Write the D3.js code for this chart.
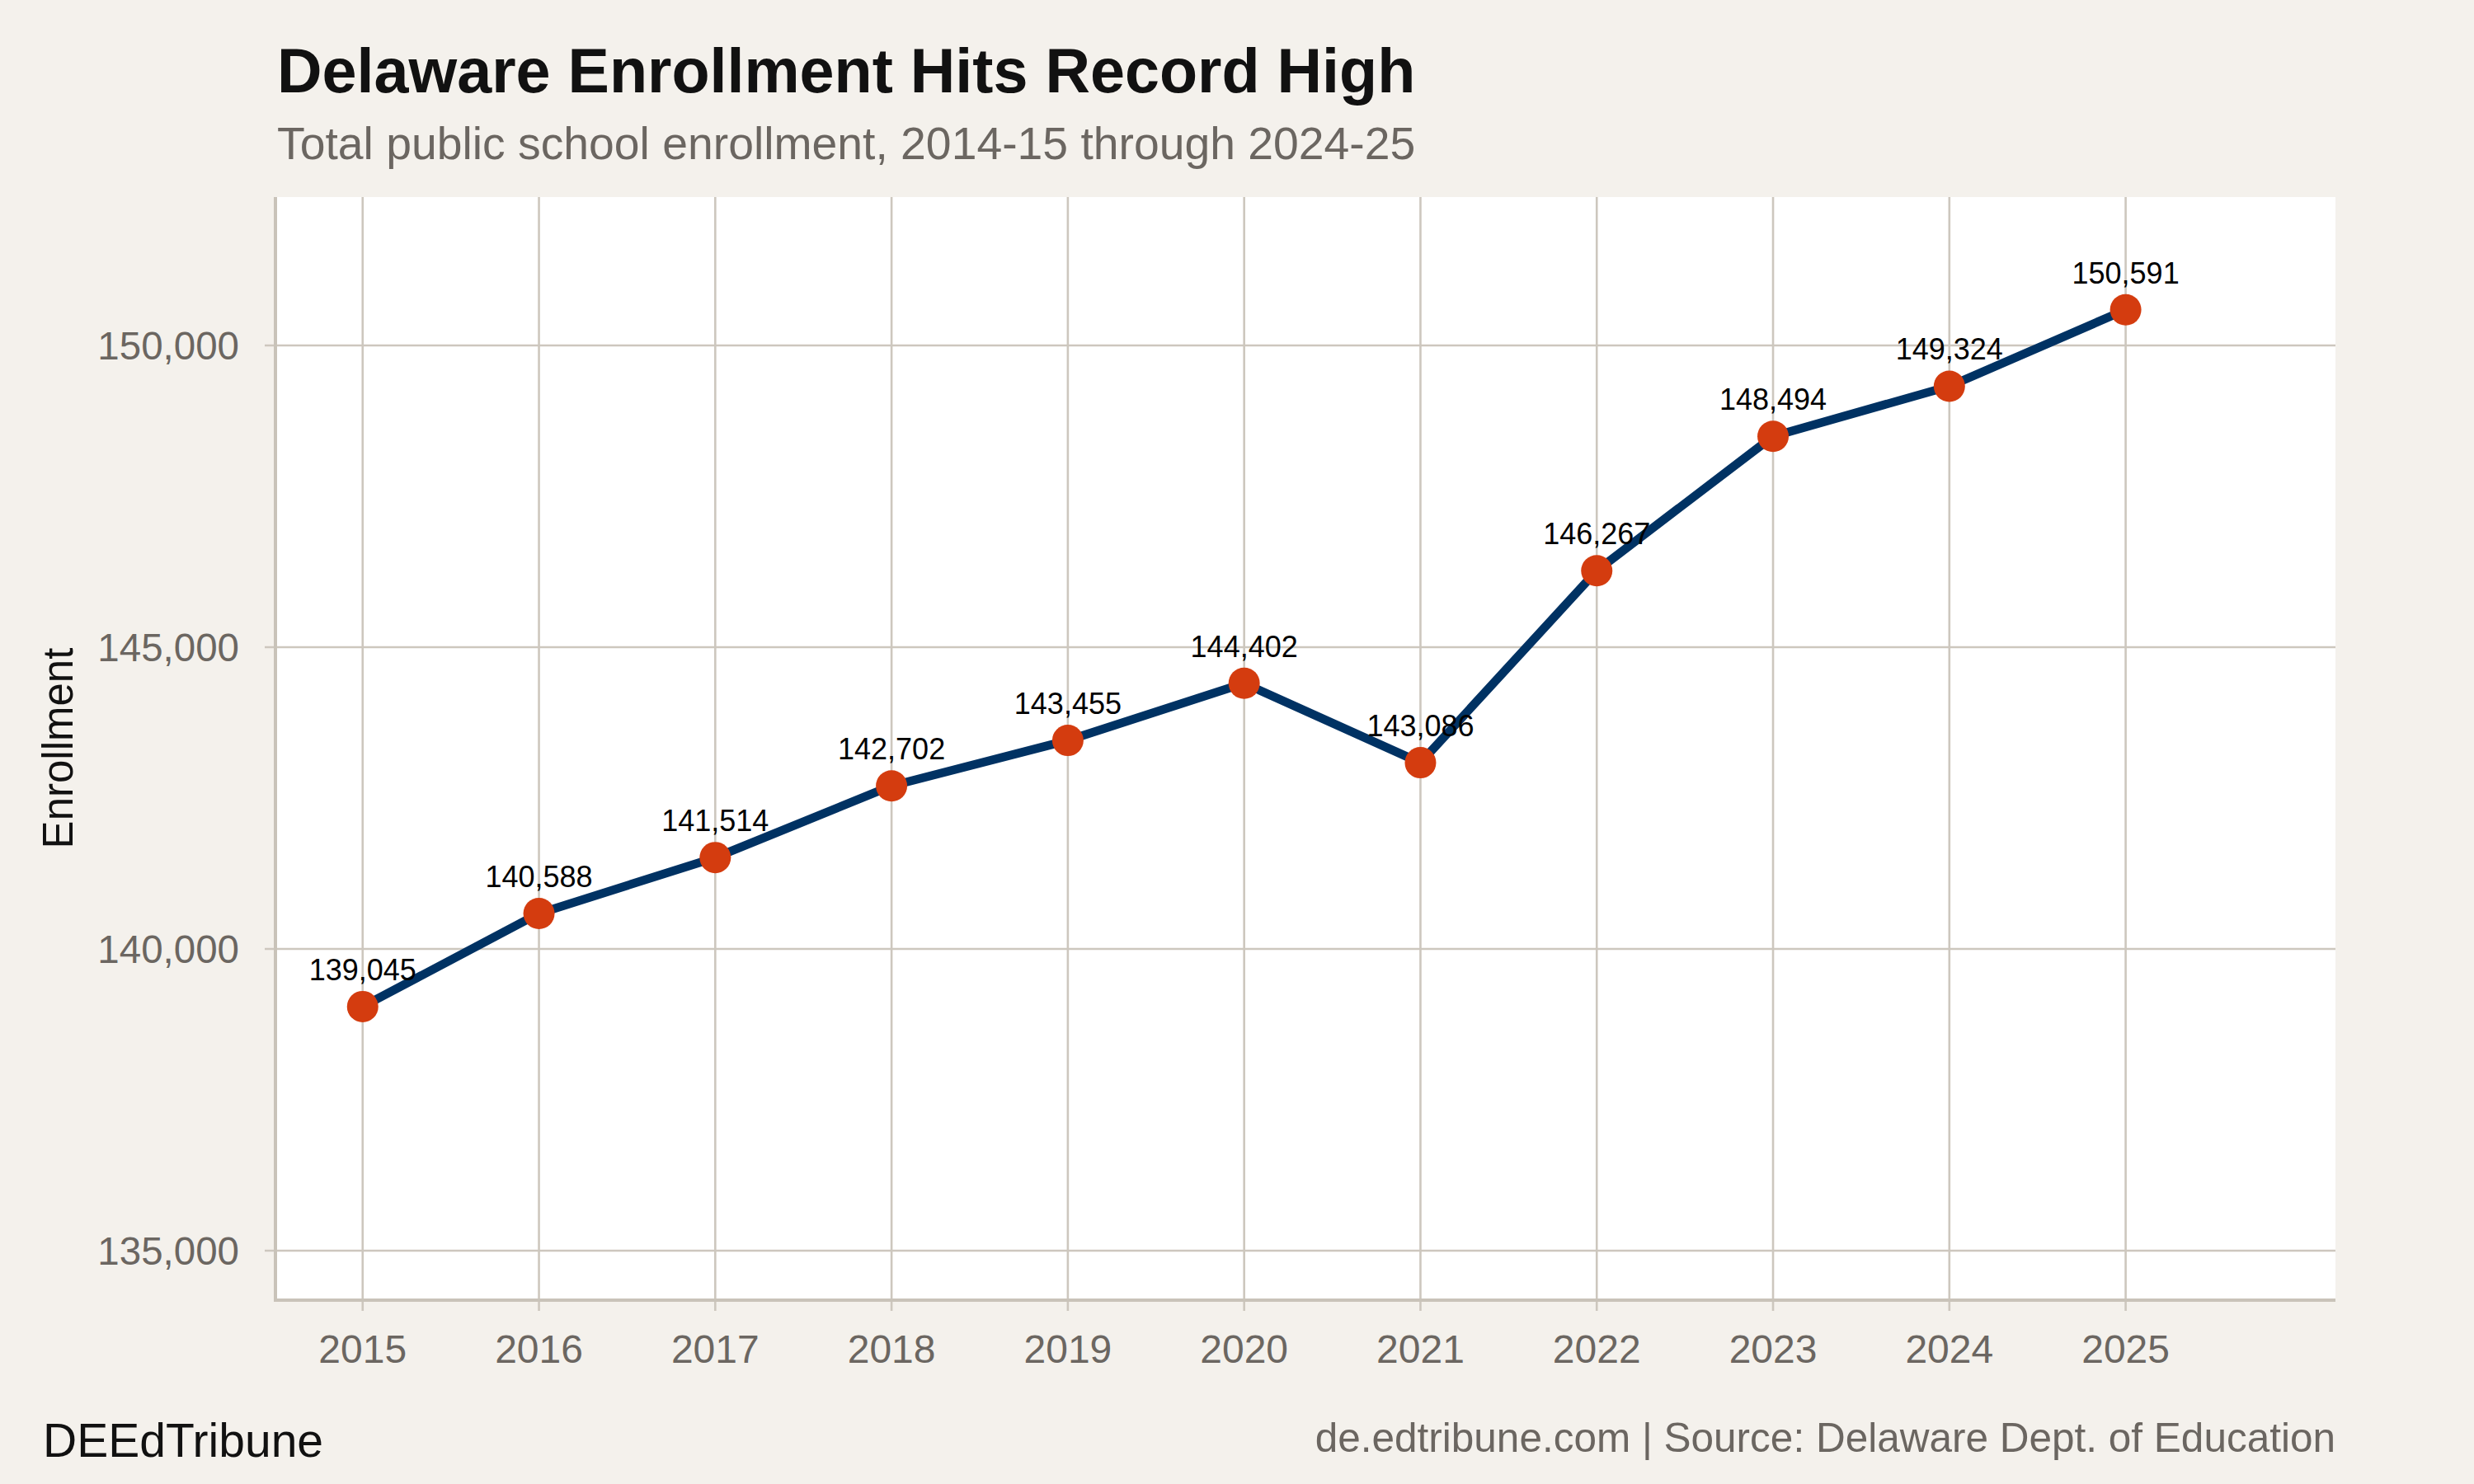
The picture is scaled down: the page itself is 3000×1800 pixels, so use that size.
<!DOCTYPE html>
<html>
<head>
<meta charset="utf-8">
<script src="https://cdn.jsdelivr.net/npm/d3@7"></script>
<style>
  html, body { margin: 0; padding: 0; background: #f4f1ec; }
  svg { display: block; font-family: "Liberation Sans", Arial, Helvetica, sans-serif; }
</style>
</head>
<body>
<svg id="chart" width="3000" height="1800"></svg>
<script>
// ---- data ----
const years = [2015, 2016, 2017, 2018, 2019, 2020, 2021, 2022, 2023, 2024, 2025];
const enrollment = [139045, 140588, 141514, 142702, 143455, 144402, 143086, 146267, 148494, 149324, 150591];
const yTicks = [135000, 140000, 145000, 150000];
const xTicks = years;
const titleText = "Delaware Enrollment Hits Record High";
const subtitleText = "Total public school enrollment, 2014-15 through 2024-25";
const yLabel = "Enrollment";
const captionLeft = "DEEdTribune";
const captionRight = "de.edtribune.com | Source: Delaware Dept. of Education";

// ---- layout ----
const W = 3000, H = 1800;
const panel = { left: 335, right: 2832, top: 239, bottom: 1576 };
const colors = {
  bg: "#f4f1ec", panel: "#ffffff", grid: "#cdc7be", axis: "#c9c3b9",
  tick: "#6b6661", line: "#003263", point: "#d43c0f", text: "#111111"
};

const svg = d3.select("#chart");
svg.append("rect").attr("width", W).attr("height", H).attr("fill", colors.bg);

const x = d3.scaleLinear().domain([2014.51, 2026.19]).range([panel.left, panel.right]);
const y = d3.scaleLinear().domain([134194, 152459]).range([panel.bottom, panel.top]);

// panel
svg.append("rect")
  .attr("x", panel.left).attr("y", panel.top)
  .attr("width", panel.right - panel.left).attr("height", panel.bottom - panel.top)
  .attr("fill", colors.panel);

// gridlines
const grid = svg.append("g");
grid.selectAll("line.h").data(yTicks).join("line")
  .attr("x1", panel.left - 14).attr("x2", panel.right)
  .attr("y1", d => y(d)).attr("y2", d => y(d))
  .attr("stroke", colors.grid).attr("stroke-width", 2.6);
grid.selectAll("line.v").data(xTicks).join("line")
  .attr("x1", d => x(d)).attr("x2", d => x(d))
  .attr("y1", panel.top).attr("y2", panel.bottom + 14)
  .attr("stroke", colors.grid).attr("stroke-width", 2.6);

// axes lines
svg.append("line").attr("x1", panel.left - 1).attr("x2", panel.left - 1)
  .attr("y1", panel.top).attr("y2", panel.bottom + 2)
  .attr("stroke", colors.axis).attr("stroke-width", 4);
svg.append("line").attr("x1", panel.left - 3).attr("x2", panel.right)
  .attr("y1", panel.bottom + 1).attr("y2", panel.bottom + 1)
  .attr("stroke", colors.axis).attr("stroke-width", 4);

// axis tick labels
const fmt = d3.format(",");
svg.append("g").selectAll("text").data(yTicks).join("text")
  .attr("x", 290).attr("y", d => y(d)).attr("dy", "0.36em")
  .attr("text-anchor", "end").attr("font-size", 47.5).attr("fill", colors.tick)
  .text(d => fmt(d));
svg.append("g").selectAll("text").data(xTicks).join("text")
  .attr("x", d => x(d)).attr("y", 1653)
  .attr("text-anchor", "middle").attr("font-size", 48).attr("fill", colors.tick)
  .text(d => d);

// y axis title
svg.append("text")
  .attr("transform", `translate(88, ${(panel.top + panel.bottom) / 2}) rotate(-90)`)
  .attr("text-anchor", "middle").attr("font-size", 51).attr("fill", colors.text)
  .text(yLabel);

// line
const data = years.map((yr, i) => ({ year: yr, value: enrollment[i] }));
svg.append("path").datum(data)
  .attr("d", d3.line().x(d => x(d.year)).y(d => y(d.value)))
  .attr("fill", "none").attr("stroke", colors.line).attr("stroke-width", 10.5)
  .attr("stroke-linejoin", "round");

// points
svg.append("g").selectAll("circle").data(data).join("circle")
  .attr("cx", d => x(d.year)).attr("cy", d => y(d.value)).attr("r", 19)
  .attr("fill", colors.point);

// value labels
svg.append("g").selectAll("text").data(data).join("text")
  .attr("x", d => x(d.year)).attr("y", d => y(d.value) - 32)
  .attr("text-anchor", "middle").attr("font-size", 36).attr("fill", "#000")
  .text(d => fmt(d.value));

// title & subtitle
svg.append("text").attr("x", 336).attr("y", 112)
  .attr("font-size", 75.5).attr("font-weight", "bold").attr("fill", colors.text)
  .text(titleText);
svg.append("text").attr("x", 336).attr("y", 193)
  .attr("font-size", 55.3).attr("fill", colors.tick)
  .text(subtitleText);

// captions
svg.append("text").attr("x", 52).attr("y", 1767)
  .attr("font-size", 57).attr("fill", colors.text)
  .text(captionLeft);
svg.append("text").attr("x", panel.right).attr("y", 1761)
  .attr("text-anchor", "end").attr("font-size", 49.5).attr("fill", colors.tick)
  .text(captionRight);
</script>
</body>
</html>
